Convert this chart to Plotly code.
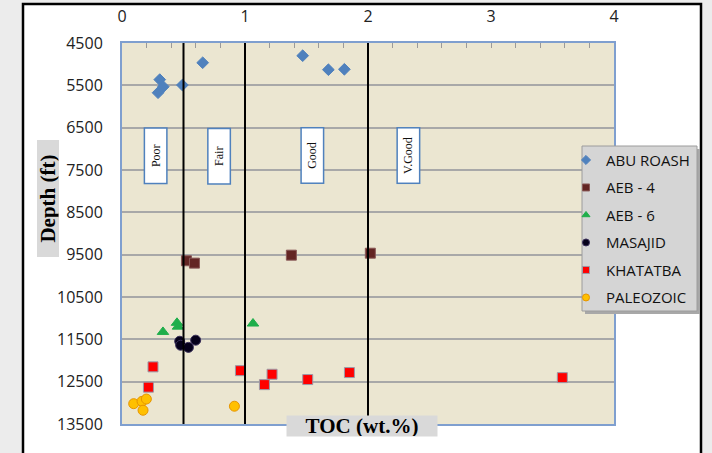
import plotly.graph_objects as go

# TOC (wt.%) and depth (ft) per formation
abu_toc = [0.307, 0.336, 0.293, 0.491, 0.656, 1.469, 1.678, 1.808]
abu_depth = [5365, 5533, 5675, 5493, 4966, 4800, 5131, 5121]

aeb4_toc = [0.524, 0.589, 1.377, 2.019]
aeb4_depth = [9644, 9700, 9512, 9465]

aeb6_toc = [0.333, 0.447, 0.455, 1.065]
aeb6_depth = [11325, 11110, 11200, 11127]

masajid_toc = [0.469, 0.477, 0.540, 0.599]
masajid_depth = [11545, 11640, 11690, 11520]

khat_toc = [0.252, 0.215, 0.963, 1.220, 1.158, 1.510, 1.849, 3.580]
khat_depth = [12150, 12630, 12240, 12325, 12570, 12450, 12285, 12405]

paleo_toc = [0.095, 0.163, 0.198, 0.171, 0.914]
paleo_depth = [13020, 12965, 12910, 13175, 13080]

# source-rock quality thresholds and class labels
thresholds = [0.5, 1, 2]
classes = ["Poor", "Fair", "Good", "V.Good"]
class_toc = [0.272, 0.788, 1.546, 2.327]
class_depth = 7165

x_ticks = [0, 1, 2, 3, 4]
y_ticks = [4500, 5500, 6500, 7500, 8500, 9500, 10500, 11500, 12500, 13500]

series = [
    ("ABU ROASH", abu_toc, abu_depth, "diamond", 9, "#4f81bd", "#4f81bd"),
    ("AEB - 4", aeb4_toc, aeb4_depth, "square", 10, "#632523", "#8a5a58"),
    ("AEB - 6", aeb6_toc, aeb6_depth, "triangle-up", 10, "#1fae4b", "#1fae4b"),
    ("MASAJID", masajid_toc, masajid_depth, "circle", 10, "#05001a", "#3a2f5a"),
    ("KHATATBA", khat_toc, khat_depth, "square", 10, "#ff0000", "#9a9aa8"),
    ("PALEOZOIC", paleo_toc, paleo_depth, "circle", 10, "#ffc000", "#e69500"),
]

fig = go.Figure()
for name, x, y, sym, size, color, lc in series:
    fig.add_trace(go.Scatter(
        x=x, y=y, mode="markers", name=name, legendgroup=name, showlegend=False,
        marker=dict(symbol=sym, size=size, color=color, line=dict(color=lc, width=1)),
    ))
# legend keys use smaller symbols than the plotted points
for name, x, y, sym, size, color, lc in series:
    fig.add_trace(go.Scatter(
        x=[None], y=[None], mode="markers", name=name, legendgroup=name,
        marker=dict(symbol=sym, size=7, color=color, line=dict(color=lc, width=1)),
    ))

for t in thresholds:
    fig.add_vline(x=t, line_color="black", line_width=2)

L, R, T, B = 122, 98, 43, 29
W, H = 712, 453
pw, ph = W - L - R, H - T - B


def px(v):
    return (v - L) / pw


def py(v):
    return 1 - (v - T) / ph


shapes = [
    # white page with black frame
    dict(type="rect", xref="paper", yref="paper", layer="below",
         x0=px(23), x1=px(701), y0=py(470), y1=py(4),
         fillcolor="white", line=dict(color="black", width=2.5)),
    # plot area fill
    dict(type="rect", xref="paper", yref="paper", layer="below",
         x0=0, x1=1, y0=0, y1=1, fillcolor="#ebe6d1", line=dict(width=0)),
    # legend shadow and box
    dict(type="rect", xref="paper", yref="paper", layer="above",
         x0=px(585), x1=px(700), y0=py(314), y1=py(149),
         fillcolor="#a8a8a8", line=dict(width=0)),
    dict(type="rect", xref="paper", yref="paper", layer="above",
         x0=px(582), x1=px(697), y0=py(311), y1=py(146),
         fillcolor="#d5d5d5", line=dict(color="#9c9c9c", width=1)),
]
for s in shapes:
    fig.add_shape(**s)

for lab, xt in zip(classes, class_toc):
    fig.add_annotation(
        x=xt, y=class_depth, xref="x", yref="y", text=lab, showarrow=False,
        textangle=-90, width=54, height=21, bgcolor="white",
        bordercolor="#4f81bd", borderwidth=1.5, borderpad=0,
        font=dict(family="Liberation Serif", size=12, color="#111"),
    )

fig.add_annotation(
    x=px(37), y=py(199), xref="paper", yref="paper", text="<b>Depth (ft)</b>",
    showarrow=False, textangle=-90, width=116, height=21, bgcolor="#d9d9d9",
    borderpad=0, font=dict(family="Liberation Serif", size=21, color="black"),
)
fig.add_annotation(
    x=px(362), y=py(437), xref="paper", yref="paper", text="<b>TOC (wt.%)</b>",
    showarrow=False, width=150, height=20, bgcolor="#d9d9d9",
    borderpad=0, font=dict(family="Liberation Serif", size=21, color="black"),
)

tick_font = dict(family="Open Sans", size=16, color="#222")
fig.update_layout(
    width=W, height=H, margin=dict(l=L, r=R, t=T, b=B),
    paper_bgcolor="#ececec", plot_bgcolor="rgba(0,0,0,0)",
    showlegend=True,
    legend=dict(x=px(566), y=py(146) + 0.006, xanchor="left", yanchor="top",
                bgcolor="rgba(0,0,0,0)", borderwidth=0, tracegroupgap=5,
                font=dict(family="Open Sans", size=15, color="#111")),
    xaxis=dict(range=[0, 4], side="top", tickvals=x_ticks,
               ticktext=[str(v) for v in x_ticks], showgrid=False,
               zeroline=False, showline=True, mirror=True, linecolor="#7f9fcf",
               linewidth=2, ticks="inside", ticklen=5, tickcolor="#9a9a9a",
               minor=dict(dtick=0.2, tick0=0, ticks="inside", ticklen=5,
                          tickcolor="#9a9a9a", showgrid=False),
               tickfont=tick_font, ticklabelstandoff=13, automargin=False),
    yaxis=dict(range=[13500, 4500], tickvals=y_ticks,
               ticktext=[str(v) for v in y_ticks], showgrid=True,
               gridcolor="#a8a8a8", gridwidth=1.5, zeroline=False, showline=True,
               mirror=True, linecolor="#7f9fcf", linewidth=2, ticks="",
               tickfont=tick_font, ticklabelstandoff=14, automargin=False),
)

fig.write_html("out.html")
